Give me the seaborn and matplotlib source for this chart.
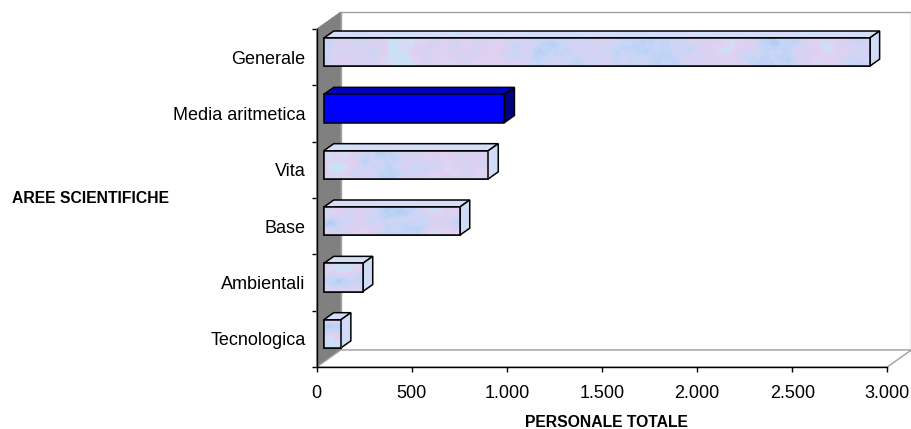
import numpy as np
import pandas as pd
import matplotlib
matplotlib.use("Agg")
import matplotlib.pyplot as plt
from matplotlib.patches import Polygon, Rectangle
from matplotlib.colors import LinearSegmentedColormap
from matplotlib.ticker import FuncFormatter, FixedLocator
import seaborn as sns

# ---- data -------------------------------------------------------------
aree = ["Generale", "Media aritmetica", "Vita", "Base", "Ambientali", "Tecnologica"]
personale = [2870, 950, 865, 715, 205, 90]
media_label = "Media aritmetica"
x_ticks = [0, 500, 1000, 1500, 2000, 2500, 3000]

df = pd.DataFrame({"area": aree, "personale": personale})

# ---- style ------------------------------------------------------------
sns.set_theme(style="white")
plt.rcParams["font.family"] = ["Liberation Sans", "DejaVu Sans"]

W, H = 912, 429
fig = plt.figure(figsize=(W / 100, H / 100), dpi=100)
fig.patch.set_facecolor("white")

# front plane of the 3D box, in pixels
px_left, px_right, px_top, px_bottom = 316.7, 887.3, 29.0, 367.0
ax = fig.add_axes([px_left / W, (H - px_bottom) / H,
                   (px_right - px_left) / W, (px_bottom - px_top) / H])
ax.set_facecolor("none")

xmax = 3000
n = len(aree)
ax.set_xlim(0, xmax)
ax.set_ylim(n - 0.5, -0.5)
px_per_unit = (px_right - px_left) / xmax
px_per_cat = (px_bottom - px_top) / n

# oblique depth of the box, converted to data units
depth_dx = 24 / px_per_unit
depth_dy = 17 / px_per_cat

light = "#c9d7f6"
palette = {a: ("#0000ff" if a == media_label else light) for a in aree}

sns.barplot(data=df, x="personale", y="area", hue="area", palette=palette,
            orient="h", width=0.5, order=aree, hue_order=aree, legend=False,
            edgecolor="black", linewidth=1.1, saturation=1, ax=ax, zorder=5)

# ---- walls and floor --------------------------------------------------
wall_kw = dict(clip_on=False, zorder=1)
ax.add_patch(Polygon([(0, n - 0.5), (depth_dx, n - 0.5 - depth_dy),
                      (depth_dx, -0.5 - depth_dy), (0, -0.5)],
                     facecolor="#808080", edgecolor="#808080", lw=0.6, **wall_kw))
ax.add_patch(Polygon([(depth_dx, -0.5 - depth_dy), (xmax + depth_dx, -0.5 - depth_dy),
                      (xmax + depth_dx, n - 0.5 - depth_dy), (depth_dx, n - 0.5 - depth_dy)],
                     facecolor="white", edgecolor="#a0a0a0", lw=1.0, **wall_kw))
ax.add_patch(Polygon([(0, n - 0.5), (xmax, n - 0.5),
                      (xmax + depth_dx, n - 0.5 - depth_dy), (depth_dx, n - 0.5 - depth_dy)],
                     facecolor="white", edgecolor="#a0a0a0", lw=1.0, **wall_kw))

# ---- marble texture for the light bars --------------------------------
def blur(field, sx, sy):
    fy = np.fft.fftfreq(field.shape[0])[:, None]
    fx = np.fft.fftfreq(field.shape[1])[None, :]
    kernel = np.exp(-2 * np.pi ** 2 * ((fx * sx) ** 2 + (fy * sy) ** 2))
    return np.real(np.fft.ifft2(np.fft.fft2(field) * kernel))

def norm(a):
    return (a - a.min()) / (a.max() - a.min() + 1e-12)

def marble(shape, seed):
    rng = np.random.default_rng(seed)
    coarse = norm(blur(rng.random(shape), 14, 8))
    mid = norm(blur(rng.random(shape), 4, 3))
    fine = norm(blur(rng.random(shape), 1.0, 1.0))
    return 0.45 * coarse + 0.35 * mid + 0.2 * fine

marble_cmap = LinearSegmentedColormap.from_list(
    "marble", ["#b4ccf4", "#c0d4f6", "#ccd6f6", "#d8d2f2", "#e2d0f0", "#cfe0f6", "#c4e2f4"])

# ---- 3D bars ------------------------------------------------------------
z_front, z_depth = 0.29, 0.42
bars = [p for p in ax.patches if isinstance(p, Rectangle) and p.get_width() > 0]
for i, patch in enumerate(bars):
    x0, y0 = patch.get_x(), patch.get_y()
    w, h = patch.get_width(), patch.get_height()
    x = x0 + z_front * depth_dx
    y = y0 - z_front * depth_dy
    patch.set_x(x)
    patch.set_y(y)
    ddx, ddy = z_depth * depth_dx, z_depth * depth_dy
    is_media = np.allclose(patch.get_facecolor()[:3], (0, 0, 1))
    top_c = "#0000c0" if is_media else "#d4def8"
    side_c = "#000080" if is_media else "#d0dcf7"
    ax.add_patch(Polygon([(x, y), (x + w, y), (x + w + ddx, y - ddy), (x + ddx, y - ddy)],
                         facecolor=top_c, edgecolor="black", lw=1.1, zorder=4,
                         clip_on=False, joinstyle="miter"))
    ax.add_patch(Polygon([(x + w, y), (x + w + ddx, y - ddy), (x + w + ddx, y + h - ddy),
                          (x + w, y + h)],
                         facecolor=side_c, edgecolor="black", lw=1.1, zorder=4,
                         clip_on=False, joinstyle="miter"))
    patch.set_clip_on(False)
    patch.set_joinstyle("miter")
    if not is_media:
        shape = (max(int(h * px_per_cat), 4), max(int(w * px_per_unit), 4))
        tex = marble(shape, seed=11 + i)
        im = ax.imshow(tex, extent=[x, x + w, y + h, y], aspect="auto",
                       cmap=marble_cmap, interpolation="bilinear", zorder=5.5)
        im.set_clip_path(patch)
        ax.add_patch(Rectangle((x, y), w, h, fill=False, edgecolor="black",
                               lw=1.1, zorder=6, clip_on=False, joinstyle="miter"))

ax.set_xlim(0, xmax)
ax.set_ylim(n - 0.5, -0.5)

# ---- axes ------------------------------------------------------------
for s in ("top", "right"):
    ax.spines[s].set_visible(False)
for s in ("left", "bottom"):
    ax.spines[s].set_color("black")
    ax.spines[s].set_linewidth(1.0)
    ax.spines[s].set_zorder(8)

ax.xaxis.set_major_locator(FixedLocator(x_ticks))
ax.xaxis.set_major_formatter(FuncFormatter(lambda v, _: f"{int(v):,}".replace(",", ".")))
ax.tick_params(axis="x", which="major", direction="out", length=3.6, width=1.0,
               color="black", labelsize=13, pad=9, labelcolor="black", bottom=True)

ax.yaxis.set_minor_locator(FixedLocator(np.arange(-0.5, n, 1.0)))
ax.tick_params(axis="y", which="major", length=0, labelsize=13, pad=8, labelcolor="black")
ax.tick_params(axis="y", which="minor", direction="out", length=3.6, width=1.0,
               color="black", left=True)
ax.set_xlabel("")
ax.set_ylabel("")

fig.text(11.7 / W, 1 - 202.7 / H, "AREE SCIENTIFICHE", ha="left", va="baseline",
         fontsize=11.3, fontweight="bold", color="black")
fig.text(606 / W, 1 - 427 / H, "PERSONALE TOTALE", ha="center", va="baseline",
         fontsize=11.3, fontweight="bold", color="black")

fig.savefig("out.png", dpi=100, facecolor="white")
